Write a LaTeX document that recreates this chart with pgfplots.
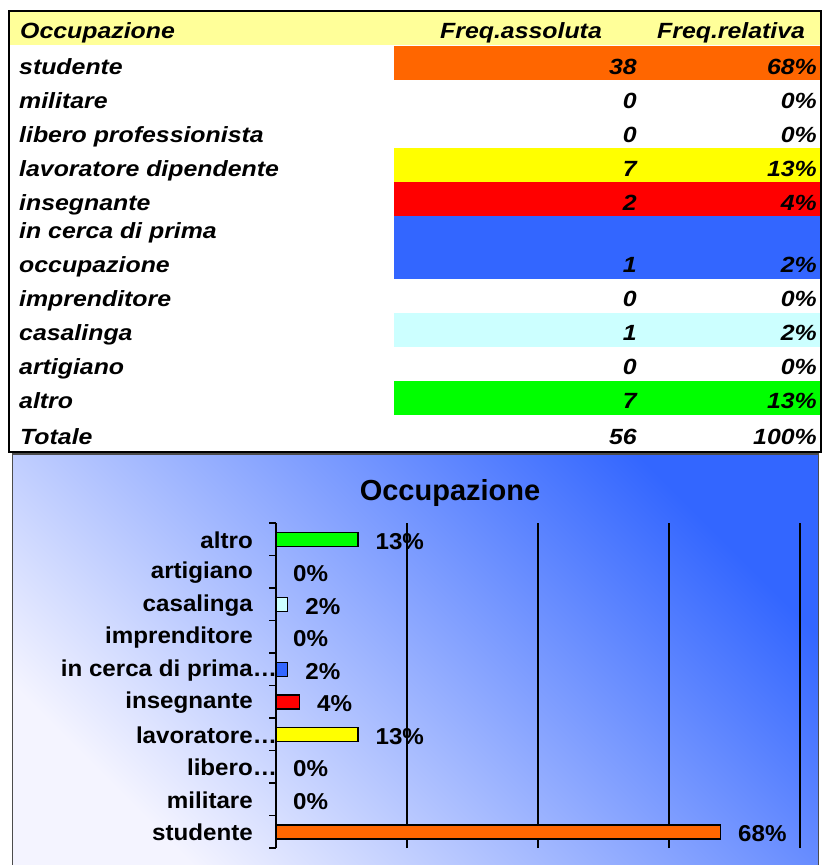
\documentclass[border=0pt]{standalone}
\usepackage{pgfplots}
\pgfplotsset{compat=1.18}
\usepackage{fontspec}
\setmainfont{Liberation Sans}
\newfontfamily\tabfont[FakeStretch=1.13]{Liberation Sans}
\newfontfamily\chfont[FakeStretch=1.05]{Liberation Sans}
\definecolor{hdr}{HTML}{FFFF99}
\definecolor{cOr}{HTML}{FF6600}
\definecolor{cYe}{HTML}{FFFF00}
\definecolor{cRe}{HTML}{FF0000}
\definecolor{cBl}{HTML}{3366FF}
\definecolor{cCy}{HTML}{CCFFFF}
\definecolor{cGr}{HTML}{00FF00}
\definecolor{gTop}{HTML}{3366FF}
\definecolor{gBot}{HTML}{F4F4FF}
\newcommand\tf{\tabfont\bfseries\itshape\fontsize{22bp}{24bp}\selectfont}
\newcommand\cf{\chfont\bfseries\fontsize{23bp}{26bp}\selectfont}
\begin{document}
\begin{tikzpicture}
\begin{scope}[x=1bp,y=-1bp]
\path[use as bounding box] (0,0) rectangle (823,865);
\fill[white] (0,0) rectangle (823,865);
% table backgrounds
\fill[hdr] (9,11) rectangle (821,45);
\fill[cOr] (394,46) rectangle (821,80);
\fill[cYe] (394,148) rectangle (821,182);
\fill[cRe] (394,182) rectangle (821,216);
\fill[cBl] (394,216) rectangle (821,279);
\fill[cCy] (394,313) rectangle (821,347);
\fill[cGr] (394,381) rectangle (821,415);
\draw[line width=2.5bp] (9,11) rectangle (821,452);
% table text
\begin{scope}[every node/.style={inner sep=0pt, font=\tf}]
\node[anchor=base west] at (20,38) {Occupazione};
\node[anchor=base west] at (440,38) {Freq.assoluta};
\node[anchor=base west] at (657,38) {Freq.relativa};
\node[anchor=base west] at (19,74) {studente};
\node[anchor=base west] at (19,108) {militare};
\node[anchor=base west] at (19,142) {libero professionista};
\node[anchor=base west] at (19,176) {lavoratore dipendente};
\node[anchor=base west] at (19,210) {insegnante};
\node[anchor=base west] at (19,238) {in cerca di prima};
\node[anchor=base west] at (19,272) {occupazione};
\node[anchor=base west] at (19,306) {imprenditore};
\node[anchor=base west] at (19,340) {casalinga};
\node[anchor=base west] at (19,374) {artigiano};
\node[anchor=base west] at (19,408) {altro};
\node[anchor=base west] at (20,444) {Totale};
\foreach \yy/\a/\r in {74/38/68\%, 108/0/0\%, 142/0/0\%, 176/7/13\%, 210/2/4\%, 272/1/2\%, 306/0/0\%, 340/1/2\%, 374/0/0\%, 408/7/13\%, 444/56/100\%}{
  \node[anchor=base east] at (637,\yy) {\a};
  \node[anchor=base east] at (817,\yy) {\r};
}
\end{scope}
% chart panel
\shade[bottom color=gBot, top color=gTop, shading angle=-45] (12.5,454) rectangle (818.5,866);
\draw[black!70, line width=1.5bp] (12.5,866) -- (12.5,454) -- (818.5,454) -- (818.5,866);
\node[anchor=base, inner sep=0pt, font=\bfseries\fontsize{29bp}{32bp}\selectfont] at (450,500) {Occupazione};
\end{scope}
\begin{axis}[at={(276bp,-848bp)}, anchor=south west, scale only axis,
  width=524bp, height=325bp,
  xbar, bar width=14bp, bar shift=0pt,
  xmin=0, xmax=0.8, ymin=-0.5, ymax=9.5,
  axis lines*=left,
  x axis line style={draw=none},
  y axis line style={black, line width=1.5bp},
  xtick={0,0.2,0.4,0.6,0.8}, xticklabels={,,,,,},
  xmajorgrids, major x grid style={black, line width=1.5bp},
  ytick={0,...,9},
  yticklabels={studente, militare, libero\rlap{…}, lavoratore\rlap{…}, insegnante, in cerca di prima\rlap{…}, imprenditore, casalinga, artigiano, altro},
  minor ytick={-0.5,0.5,...,9.5},
  tick style={black, line width=1.5bp},
  major tick length=0pt, minor tick length=7bp, tick align=outside,
  yticklabel style={font=\cf, inner sep=0pt, xshift=-23bp, yshift=-1bp},
  point meta=explicit symbolic,
  nodes near coords={\pgfplotspointmeta\%},
  every node near coord/.append style={font=\cf, anchor=west, inner sep=0pt, xshift=17bp, yshift=-2bp, text=black},
  clip=false,
]
\addplot[fill=cOr, draw=black, line width=1.5bp] coordinates {(0.6786,0) [68]};
\addplot[fill=cYe, draw=black, line width=1.5bp] coordinates {(0.125,3) [13]};
\addplot[fill=cRe, draw=black, line width=1.5bp] coordinates {(0.0357,4) [4]};
\addplot[fill=cBl, draw=black, line width=1.5bp] coordinates {(0.0179,5) [2]};
\addplot[fill=cCy, draw=black, line width=1.5bp] coordinates {(0.0179,7) [2]};
\addplot[fill=cGr, draw=black, line width=1.5bp] coordinates {(0.125,9) [13]};
\addplot[draw=none, fill=none] coordinates {(0,1) [0] (0,2) [0] (0,6) [0] (0,8) [0]};
\end{axis}
\end{tikzpicture}
\end{document}
